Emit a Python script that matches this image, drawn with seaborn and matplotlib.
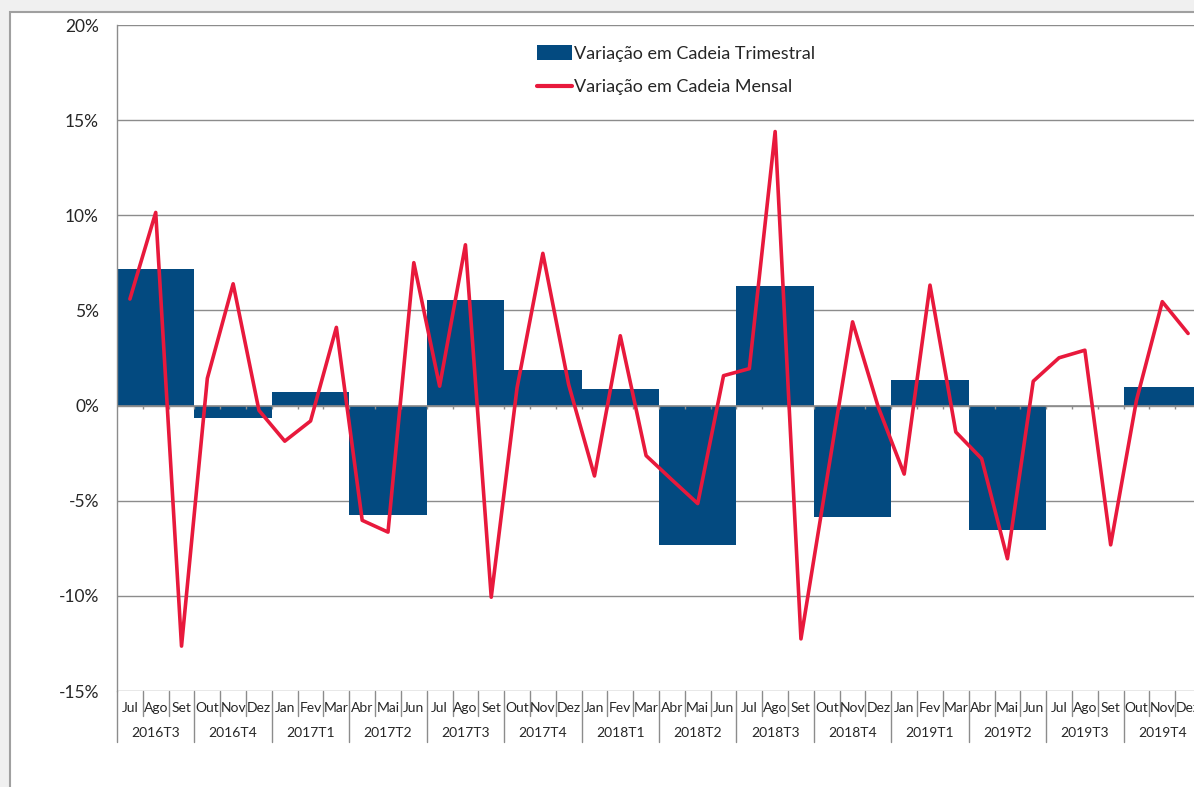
import numpy as np
import pandas as pd
import matplotlib.pyplot as plt
import matplotlib.transforms as mtransforms
from matplotlib.patches import Rectangle, Patch
from matplotlib.lines import Line2D
import seaborn as sns

sns.set_style("white")
plt.rcParams['font.family'] = ['Lato', 'DejaVu Sans']

# dados
meses = ['Jul', 'Ago', 'Set', 'Out', 'Nov', 'Dez', 'Jan', 'Fev', 'Mar', 'Abr', 'Mai', 'Jun'] * 3 \
        + ['Jul', 'Ago', 'Set', 'Out', 'Nov', 'Dez']
trimestres = ['2016T3', '2016T4', '2017T1', '2017T2', '2017T3', '2017T4', '2018T1',
              '2018T2', '2018T3', '2018T4', '2019T1', '2019T2', '2019T3', '2019T4']
var_trimestral = [7.2, -0.63, 0.71, -5.77, 5.57, 1.85, 0.89,
                  -7.31, 6.26, -5.83, 1.36, -6.56, np.nan, 0.96]
var_mensal = [5.6, 10.15, -12.64, 1.43, 6.4, -0.25, -1.87, -0.81, 4.11, -6.03, -6.65, 7.51,
              1.02, 8.45, -10.07, 0.93, 8.0, 1.1, -3.7, 3.67, -2.63, -3.9, -5.15, 1.57,
              1.94, 14.4, -12.26, -3.9, 4.4, -0.1, -3.6, 6.33, -1.39, -2.79, -8.05, 1.28,
              2.51, 2.91, -7.32, 0.28, 5.46, 3.79]

cor_barra = '#034A80'
cor_linha = '#E8193C'
cinza = '#8C8C8C'

df_t = pd.DataFrame({'x': np.arange(len(trimestres)) * 3 + 1.5, 'v': var_trimestral}).dropna()
df_m = pd.DataFrame({'x': np.arange(len(var_mensal)) + 0.5, 'v': var_mensal})

fig = plt.figure(figsize=(11.94, 7.87), dpi=100)
fig.patch.set_facecolor('#F0F0F0')
fig.patches.append(Rectangle((10 / 1194, -0.05), 1.1, 1 - 12 / 787 + 0.05, transform=fig.transFigure,
                             facecolor='white', edgecolor='#A0A0A0', lw=1.5, zorder=-1))

W, H = 1194, 787
ax = fig.add_axes([117 / W, (H - 691) / H, 1084 / W, 666 / H])
ax.set_facecolor('none')

sns.barplot(data=df_t, x='x', y='v', native_scale=True, width=1.0, color=cor_barra,
            saturation=1, errorbar=None, linewidth=0, ax=ax, zorder=2)
sns.lineplot(data=df_m, x='x', y='v', color=cor_linha, lw=2.6, ax=ax, zorder=3)

ax.set_xlim(0, 42)
ax.set_ylim(-15, 20)
ax.set_yticks(range(-15, 21, 5))
ax.set_yticklabels([f'{t}%' for t in range(-15, 21, 5)], fontsize=12.5)
ax.tick_params(axis='y', length=5, width=1, color=cinza, pad=8)
ax.set_xticks([])
ax.set_xlabel('')
ax.set_ylabel('')
ax.grid(axis='y', color=cinza, lw=1, zorder=0)
for s in ['top', 'right', 'bottom']:
    ax.spines[s].set_visible(False)
ax.spines['left'].set_color(cinza)
ax.spines['left'].set_linewidth(1)

# eixo em 0% com marcas nos meses
ax.axhline(0, color=cinza, lw=1.2, zorder=2.5)
ax.vlines(np.arange(1, 42), -0.2, 0, color=cinza, lw=1, zorder=2.5)

# rótulos de categoria em dois níveis
tr = mtransforms.blended_transform_factory(ax.transData, ax.transAxes)
d_mes = 25 / 666
d_tri = 51 / 666
for j, m in enumerate(meses):
    ax.text(j + 0.5, -0.025, m, transform=tr, ha='center', va='center', fontsize=10, clip_on=False)
    if j > 0 and j % 3 != 0:
        ax.plot([j, j], [0, -d_mes], transform=tr, color=cinza, lw=1, clip_on=False)
for k, t in enumerate(trimestres):
    ax.text(k * 3 + 1.5, -0.0625, t, transform=tr, ha='center', va='center', fontsize=10, clip_on=False)
    ax.plot([k * 3, k * 3], [0, -d_tri], transform=tr, color=cinza, lw=1, clip_on=False)

leg_h = [Patch(facecolor=cor_barra, edgecolor='none'),
         Line2D([0], [0], color=cor_linha, lw=3)]
fig.legend(leg_h, ['Variação em Cadeia Trimestral', 'Variação em Cadeia Mensal'],
           loc='upper left', bbox_to_anchor=(521 / W, 1 - 29 / H), frameon=False, fontsize=13,
           handlelength=1.9, handleheight=0.85, handletextpad=0.15, labelspacing=0.95)

fig.savefig('out.png', dpi=100, facecolor=fig.get_facecolor())
